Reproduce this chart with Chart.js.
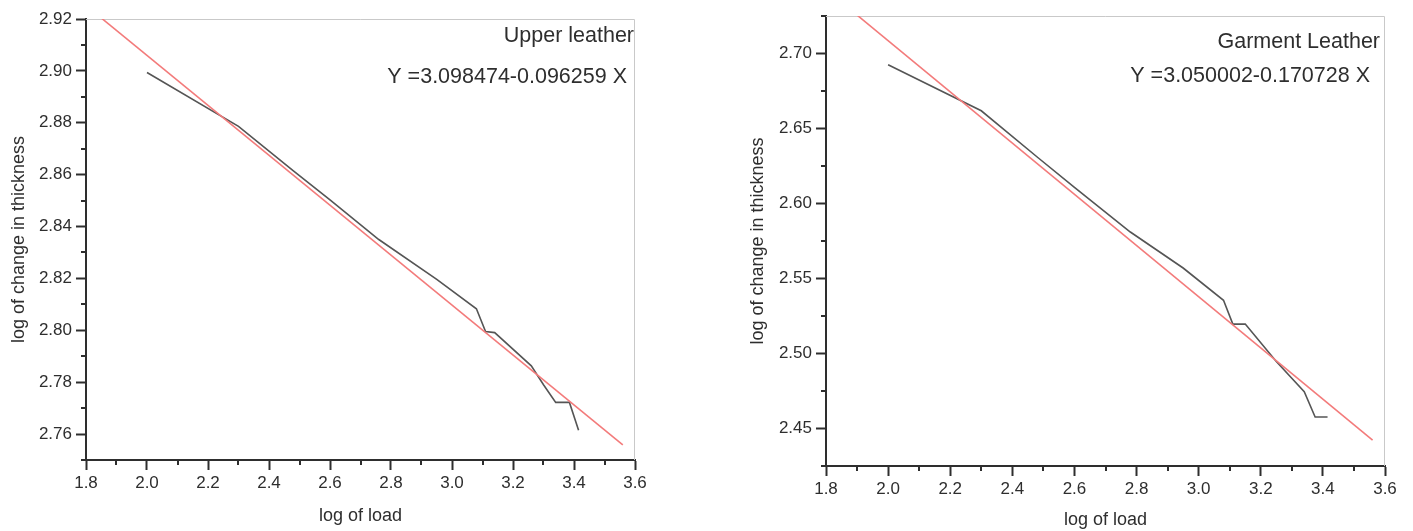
<!DOCTYPE html>
<html>
<head>
<meta charset="utf-8">
<title>Compresión del cuero</title>
<script src="https://cdn.jsdelivr.net/npm/chart.js@4.4.1/dist/chart.umd.min.js"></script>
<style>
  html, body { margin: 0; padding: 0; background: #fff; }
  #lienzo { position: relative; width: 1413px; height: 531px; overflow: hidden; }
  canvas { position: absolute; top: 0; }
  #chart-upper { left: 0; }
  #chart-garment { left: 700px; }
</style>
</head>
<body>
<div id="lienzo">
  <canvas id="chart-upper" width="680" height="531"></canvas>
  <canvas id="chart-garment" width="713" height="531"></canvas>
</div>
<script>
// Log de la carga vs log del cambio de espesor, dos cueros, cada uno con su recta de ajuste.

// Cuero de empeine (upper leather)
var logCargaUpper = [2.0, 2.3, 2.48, 2.6, 2.76, 2.95, 3.08, 3.11, 3.14, 3.26, 3.30, 3.34, 3.385, 3.415];
var espesorUpper = [2.8994, 2.8786, 2.8615, 2.8503, 2.835, 2.8196, 2.8083, 2.7995, 2.7991, 2.7863, 2.779, 2.7722, 2.7722, 2.7615];
var ajusteUpper = { a: 3.098474, b: 0.096259 };

// Cuero de confección (garment leather)
var logCargaGarment = [2.0, 2.3, 2.48, 2.6, 2.78, 2.95, 3.08, 3.11, 3.15, 3.25, 3.34, 3.375, 3.415];
var espesorGarment = [2.6925, 2.6618, 2.631, 2.6108, 2.581, 2.557, 2.5355, 2.5196, 2.5196, 2.4947, 2.4745, 2.4577, 2.4577];
var ajusteGarment = { a: 3.050002, b: 0.170728 };

// tramo en x donde se dibuja la recta
var rangoAjuste = [1.85, 3.56];

// marcas de los ejes
var ticksX = [1.8, 2.0, 2.2, 2.4, 2.6, 2.8, 3.0, 3.2, 3.4, 3.6];
var menoresX = [1.9, 2.1, 2.3, 2.5, 2.7, 2.9, 3.1, 3.3, 3.5];
var ticksYUpper = [2.76, 2.78, 2.80, 2.82, 2.84, 2.86, 2.88, 2.90, 2.92];
var menoresYUpper = [2.75, 2.77, 2.79, 2.81, 2.83, 2.85, 2.87, 2.89, 2.91];
var ticksYGarment = [2.45, 2.50, 2.55, 2.60, 2.65, 2.70];
var menoresYGarment = [2.425, 2.475, 2.525, 2.575, 2.625, 2.675, 2.725];

var FUENTE = '"Liberation Sans", Arial, Helvetica, sans-serif';
var TINTA = '#2e2e2e';

function ecuacionTexto(aj) {
  return 'Y =' + aj.a.toFixed(6) + '-' + aj.b.toFixed(6) + ' X';
}

function puntos(xs, ys) {
  return xs.map(function (x, i) { return { x: x, y: ys[i] }; });
}

function recta(aj) {
  return rangoAjuste.map(function (x) { return { x: x, y: aj.a - aj.b * x }; });
}

// marco gris claro arriba/derecha, marcas menores y los rótulos de la esquina
var decoracion = {
  id: 'decoracion',
  beforeDatasetsDraw: function (chart) {
    var a = chart.chartArea, ctx = chart.ctx;
    ctx.save();
    ctx.strokeStyle = '#c9c9c9';
    ctx.lineWidth = 1;
    ctx.beginPath();
    ctx.moveTo(a.left, a.top + 0.5);
    ctx.lineTo(a.right - 0.5, a.top + 0.5);
    ctx.lineTo(a.right - 0.5, a.bottom);
    ctx.stroke();
    ctx.restore();
  },
  afterDraw: function (chart, args, opts) {
    var a = chart.chartArea, ctx = chart.ctx;
    var sx = chart.scales.x, sy = chart.scales.y;
    ctx.save();
    ctx.strokeStyle = TINTA;
    ctx.lineWidth = 2;
    ctx.beginPath();
    opts.menoresX.forEach(function (v) {
      var px = Math.round(sx.getPixelForValue(v));
      ctx.moveTo(px, a.bottom);
      ctx.lineTo(px, a.bottom + 5);
    });
    opts.menoresY.forEach(function (v) {
      var py = Math.round(sy.getPixelForValue(v));
      ctx.moveTo(a.left, py);
      ctx.lineTo(a.left - 5, py);
    });
    ctx.stroke();

    ctx.fillStyle = TINTA;
    ctx.textAlign = 'right';
    ctx.textBaseline = 'alphabetic';
    ctx.font = '21.5px ' + FUENTE;
    ctx.fillText(opts.titulo, a.right - opts.tituloDx, a.top + opts.tituloDy);
    ctx.fillText(opts.ecuacion, a.right - opts.ecuacionDx, a.top + opts.ecuacionDy);
    ctx.restore();
  }
};

function crearGrafica(canvasId, cfg) {
  var ctx = document.getElementById(canvasId).getContext('2d');
  return new Chart(ctx, {
    type: 'scatter',
    data: {
      datasets: [
        {
          data: recta(cfg.ajuste),
          showLine: true,
          borderColor: '#f37b7b',
          borderWidth: 1.6,
          pointRadius: 0,
          tension: 0,
        },
        {
          data: puntos(cfg.xs, cfg.ys),
          showLine: true,
          borderColor: '#555555',
          borderWidth: 1.6,
          pointRadius: 0,
          tension: 0,
        },
      ],
    },
    plugins: [decoracion],
    options: {
      responsive: false,
      animation: false,
      events: [],
      layout: { padding: { top: cfg.padTop, right: cfg.padRight, left: 0, bottom: 0 } },
      plugins: {
        legend: { display: false },
        tooltip: { enabled: false },
        decoracion: {
          menoresX: menoresX,
          menoresY: cfg.menoresY,
          titulo: cfg.titulo,
          ecuacion: ecuacionTexto(cfg.ajuste),
          tituloDx: cfg.tituloDx, tituloDy: cfg.tituloDy,
          ecuacionDx: cfg.ecuacionDx, ecuacionDy: cfg.ecuacionDy,
        },
      },
      scales: {
        x: {
          type: 'linear',
          min: 1.8,
          max: 3.6,
          afterBuildTicks: function (axis) { axis.ticks = ticksX.map(function (v) { return { value: v }; }); },
          afterFit: function (axis) { axis.height = cfg.altoX; },
          border: { display: true, color: TINTA, width: 2 },
          grid: { drawOnChartArea: false, drawTicks: true, tickLength: 10, tickColor: TINTA, tickWidth: 2 },
          ticks: {
            color: TINTA, padding: 3, maxRotation: 0,
            font: { family: FUENTE, size: 17 },
            callback: function (v) { return Number(v).toFixed(1); },
          },
          title: {
            display: true, text: 'log of load', color: TINTA,
            font: { family: FUENTE, size: 18 },
            padding: { top: cfg.tituloXPad, bottom: cfg.tituloXPad },
          },
        },
        y: {
          type: 'linear',
          min: cfg.yMin,
          max: cfg.yMax,
          afterBuildTicks: function (axis) { axis.ticks = cfg.ticksY.map(function (v) { return { value: v }; }); },
          afterFit: function (axis) { axis.width = cfg.anchoY; },
          border: { display: true, color: TINTA, width: 2 },
          grid: { drawOnChartArea: false, drawTicks: true, tickLength: 10, tickColor: TINTA, tickWidth: 2 },
          ticks: {
            color: TINTA, padding: 4,
            font: { family: FUENTE, size: 17 },
            callback: function (v) { return Number(v).toFixed(2); },
          },
          title: {
            display: true, text: 'log of change in thickness', color: TINTA,
            font: { family: FUENTE, size: 18 },
            padding: { top: cfg.tituloYPad, bottom: cfg.tituloYPad },
          },
        },
      },
    },
  });
}

crearGrafica('chart-upper', {
  xs: logCargaUpper, ys: espesorUpper, ajuste: ajusteUpper,
  titulo: 'Upper leather',
  yMin: 2.75, yMax: 2.92, ticksY: ticksYUpper, menoresY: menoresYUpper,
  padTop: 19, padRight: 45, anchoY: 86, altoX: 71,
  tituloXPad: 4, tituloYPad: 8,
  tituloDx: 1, tituloDy: 23, ecuacionDx: 8, ecuacionDy: 64,
});

crearGrafica('chart-garment', {
  xs: logCargaGarment, ys: espesorGarment, ajuste: ajusteGarment,
  titulo: 'Garment Leather',
  yMin: 2.425, yMax: 2.725, ticksY: ticksYGarment, menoresY: menoresYGarment,
  padTop: 16, padRight: 28, anchoY: 126, altoX: 65,
  tituloXPad: 0, tituloYPad: 47,
  tituloDx: 5, tituloDy: 32, ecuacionDx: 15, ecuacionDy: 66,
});
</script>
</body>
</html>
